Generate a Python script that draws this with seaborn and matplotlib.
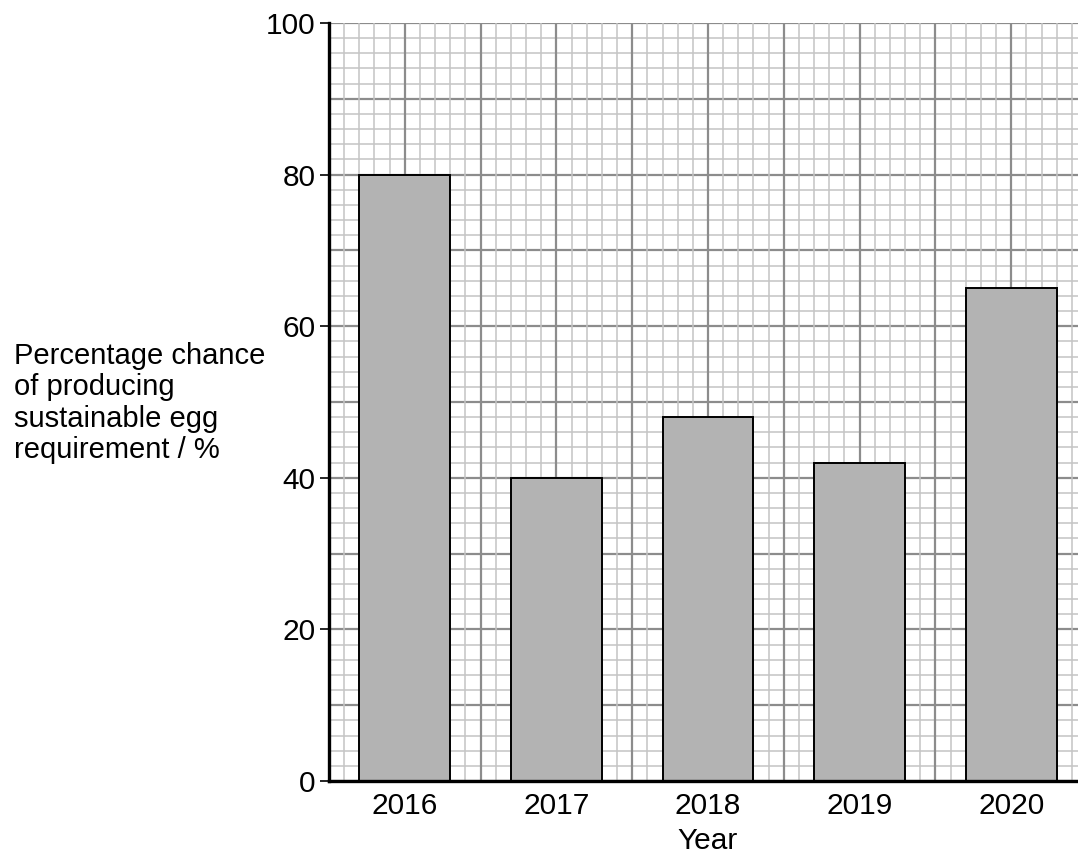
import numpy as np
import seaborn as sns
import matplotlib.pyplot as plt

# --- data ---
years = ["2016", "2017", "2018", "2019", "2020"]
chance = [80, 40, 48, 42, 65]

sns.set_style("white")
plt.rcParams["font.family"] = ["Liberation Sans", "DejaVu Sans"]
plt.rcParams["text.color"] = "black"
plt.rcParams["axes.labelcolor"] = "black"
plt.rcParams["xtick.color"] = "black"
plt.rcParams["ytick.color"] = "black"

fig = plt.figure(figsize=(10.78, 8.56), dpi=100)
ax = fig.add_axes([329 / 1078, 1 - 781 / 856, 758 / 1078, 758 / 856])

# graph-paper grid: fine lines every 2 %, heavier every 10 %
for y in np.arange(0, 100.1, 2):
    major = abs(y % 10) < 1e-6
    ax.axhline(y, color="#8c8c8c" if major else "#c4c4c4",
               lw=1.6 if major else 1.1, zorder=0)
for x in np.arange(-0.5, 4.51, 0.1):
    major = abs((x * 2) - round(x * 2)) < 1e-6
    ax.axvline(x, color="#8c8c8c" if major else "#c4c4c4",
               lw=1.6 if major else 1.1, zorder=0)

sns.barplot(x=years, y=chance, color="#b3b3b3", edgecolor="black",
            linewidth=1.4, width=0.6, saturation=1, ax=ax, zorder=2)

ax.set_xlim(-0.5, 4.5)
ax.set_ylim(0, 100)
ax.set_yticks(range(0, 101, 20))
ax.tick_params(axis="y", length=6.5, width=1.2, pad=3, labelsize=21.5, left=True)
ax.tick_params(axis="x", length=0, pad=8, labelsize=21.5)

for side in ["top", "right"]:
    ax.spines[side].set_visible(False)
for side in ["left", "bottom"]:
    ax.spines[side].set_color("black")
    ax.spines[side].set_linewidth(2.4)
    ax.spines[side].set_zorder(3)

ax.set_xlabel("Year", fontsize=21.5, labelpad=5)
ax.set_ylabel("")
fig.text(14 / 1078, 1 - 403 / 856,
         "Percentage chance\nof producing\nsustainable egg\nrequirement / %",
         ha="left", va="center", fontsize=21, linespacing=1.16)

fig.savefig("out.png", dpi=100)
